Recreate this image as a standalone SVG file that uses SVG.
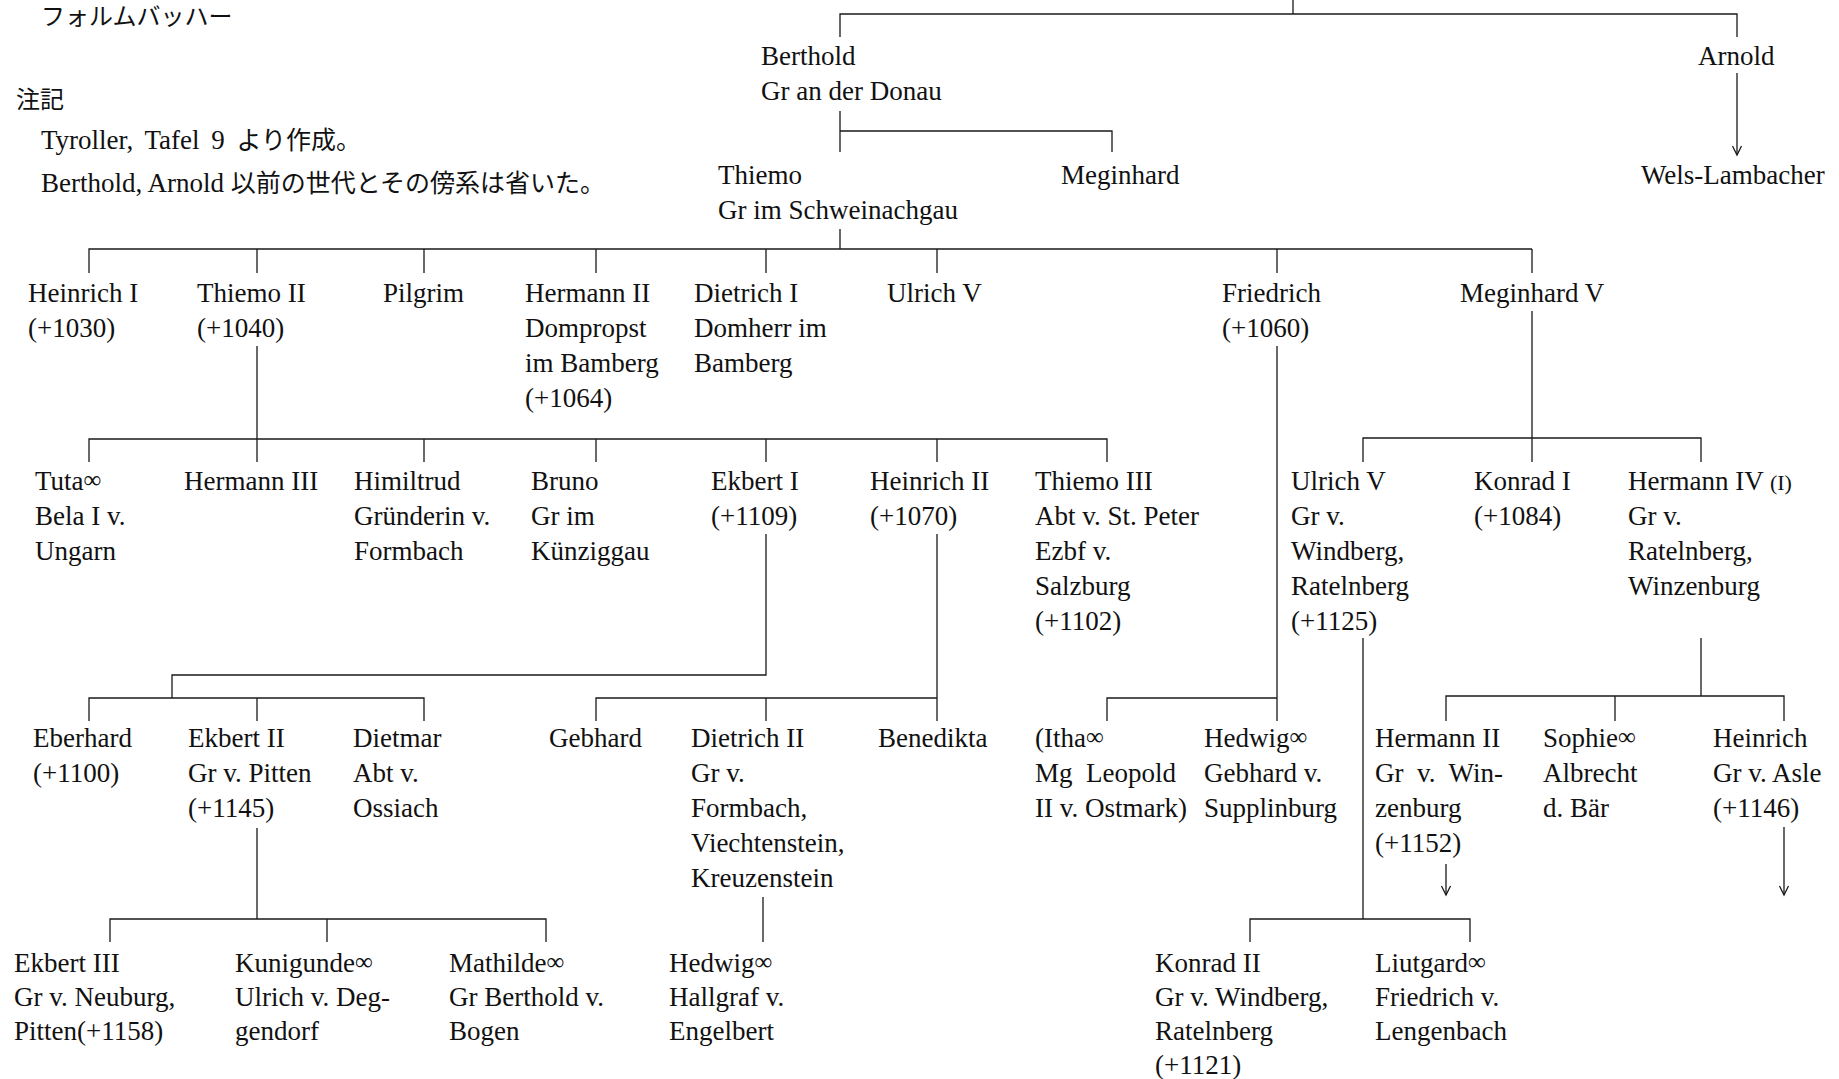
<svg xmlns="http://www.w3.org/2000/svg" width="1839" height="1079" viewBox="0 0 1839 1079">
  <style>
    text { font-family: "Liberation Serif", "Noto Sans CJK JP", serif; font-size: 27px; fill: #111; }
    .jp { font-family: "Noto Sans CJK JP", sans-serif; font-size: 24px; }
    .jpm { font-family: "Noto Sans CJK JP", sans-serif; font-size: 25px; }
    .inf { font-size: 25px; }
    .sm { font-size: 22px; }
    .ln { fill: none; stroke: #1a1a1a; stroke-width: 1.3; }
  </style>
  <defs>
    <marker id="arr" viewBox="-1 -6 12 12" refX="9" refY="0" markerWidth="12" markerHeight="12" markerUnits="userSpaceOnUse" orient="auto">
      <path d="M0,-4.5 L9,0 L0,4.5" fill="none" stroke="#1a1a1a" stroke-width="1.3"/>
    </marker>
  </defs>
  <rect width="1839" height="1079" fill="#fff"/>

  <!-- heading and notes -->
  <g id="title">
    <text class="jp" x="41" y="25">フォルムバッハー</text>
  </g>
  <g id="notes">
    <text class="jp" x="16" y="108">注記</text>
    <text x="41" y="149" word-spacing="5">Tyroller, Tafel 9 <tspan class="jpm" word-spacing="0">より作成。</tspan></text>
    <text x="41" y="192">Berthold, Arnold <tspan class="jpm">以前の世代とその傍系は省いた。</tspan></text>
  </g>

  <!-- connectors -->
  <g id="connectors" class="ln">
    <path class="ln" d="M1293 0 V14"/>
    <path class="ln" d="M840 37 V14 H1737 V37"/>
    <path class="ln" d="M840 111 V152 M840 131 H1112 V152"/>
    <path class="ln" d="M1737 73 V155" marker-end="url(#arr)"/>
    <path class="ln" d="M840 229 V249"/>
    <path class="ln" d="M89 273 V249 H1532 M257 249 V273 M424 249 V273 M596 249 V273 M766 249 V273 M937 249 V273 M1277 249 V273 M1532 249 V273"/>
    <path class="ln" d="M257 346 V462 M89 462 V439 H1107 V462 M424 439 V462 M596 439 V462 M766 439 V462 M937 439 V462"/>
    <path class="ln" d="M1277 346 V721 M1107 721 V698 H1277"/>
    <path class="ln" d="M1532 311 V462 M1363 462 V438 H1701 V462"/>
    <path class="ln" d="M766 534 V675 H172 V698 M89 721 V698 H424 V721 M257 698 V721"/>
    <path class="ln" d="M937 534 V721 M596 721 V698 H937 M766 698 V721"/>
    <path class="ln" d="M1363 638 V919 M1250 942 V919 H1470 V942"/>
    <path class="ln" d="M1701 638 V696 M1446 721 V696 H1784 V721 M1615 696 V721"/>
    <path class="ln" d="M257 828 V919 M110 942 V919 H546 V942 M327 919 V942"/>
    <path class="ln" d="M763 897 V942"/>
    <path class="ln" d="M1446 864 V895" marker-end="url(#arr)"/>
    <path class="ln" d="M1784 827 V895" marker-end="url(#arr)"/>
  </g>

  <!-- generation 1 -->
  <g id="n-berthold"><text><tspan x="761" y="65">Berthold</tspan><tspan x="761" y="100">Gr an der Donau</tspan></text></g>
  <g id="n-arnold"><text x="1698" y="65">Arnold</text></g>

  <!-- generation 2 -->
  <g id="n-thiemo"><text><tspan x="718" y="184">Thiemo</tspan><tspan x="718" y="219">Gr im Schweinachgau</tspan></text></g>
  <g id="n-meginhard"><text x="1061" y="184">Meginhard</text></g>
  <g id="n-wels-lambacher"><text x="1641" y="184">Wels-Lambacher</text></g>

  <!-- generation 3 -->
  <g id="n-heinrich-1"><text><tspan x="28" y="302">Heinrich I</tspan><tspan x="28" y="337">(+1030)</tspan></text></g>
  <g id="n-thiemo-2"><text><tspan x="197" y="302">Thiemo II</tspan><tspan x="197" y="337">(+1040)</tspan></text></g>
  <g id="n-pilgrim"><text x="383" y="302">Pilgrim</text></g>
  <g id="n-hermann-2"><text><tspan x="525" y="302">Hermann II</tspan><tspan x="525" y="337">Dompropst</tspan><tspan x="525" y="372">im Bamberg</tspan><tspan x="525" y="407">(+1064)</tspan></text></g>
  <g id="n-dietrich-1"><text><tspan x="694" y="302">Dietrich I</tspan><tspan x="694" y="337">Domherr im</tspan><tspan x="694" y="372">Bamberg</tspan></text></g>
  <g id="n-ulrich-5a"><text x="887" y="302">Ulrich V</text></g>
  <g id="n-friedrich"><text><tspan x="1222" y="302">Friedrich</tspan><tspan x="1222" y="337">(+1060)</tspan></text></g>
  <g id="n-meginhard-5"><text x="1460" y="302">Meginhard V</text></g>

  <!-- generation 4 -->
  <g id="n-tuta"><text><tspan x="35" y="490">Tuta<tspan class="inf" baseline-shift="2">∞</tspan></tspan><tspan x="35" y="525">Bela I v.</tspan><tspan x="35" y="560">Ungarn</tspan></text></g>
  <g id="n-hermann-3"><text x="184" y="490">Hermann III</text></g>
  <g id="n-himiltrud"><text><tspan x="354" y="490">Himiltrud</tspan><tspan x="354" y="525">Gründerin v.</tspan><tspan x="354" y="560">Formbach</tspan></text></g>
  <g id="n-bruno"><text><tspan x="531" y="490">Bruno</tspan><tspan x="531" y="525">Gr im</tspan><tspan x="531" y="560">Künziggau</tspan></text></g>
  <g id="n-ekbert-1"><text><tspan x="711" y="490">Ekbert I</tspan><tspan x="711" y="525">(+1109)</tspan></text></g>
  <g id="n-heinrich-2"><text><tspan x="870" y="490">Heinrich II</tspan><tspan x="870" y="525">(+1070)</tspan></text></g>
  <g id="n-thiemo-3"><text><tspan x="1035" y="490">Thiemo III</tspan><tspan x="1035" y="525">Abt v. St. Peter</tspan><tspan x="1035" y="560">Ezbf v.</tspan><tspan x="1035" y="595">Salzburg</tspan><tspan x="1035" y="630">(+1102)</tspan></text></g>
  <g id="n-ulrich-5b"><text><tspan x="1291" y="490">Ulrich V</tspan><tspan x="1291" y="525">Gr v.</tspan><tspan x="1291" y="560">Windberg,</tspan><tspan x="1291" y="595">Ratelnberg</tspan><tspan x="1291" y="630">(+1125)</tspan></text></g>
  <g id="n-konrad-1"><text><tspan x="1474" y="490">Konrad I</tspan><tspan x="1474" y="525">(+1084)</tspan></text></g>
  <g id="n-hermann-4"><text><tspan x="1628" y="490">Hermann IV <tspan class="sm">(I)</tspan></tspan><tspan x="1628" y="525">Gr v.</tspan><tspan x="1628" y="560">Ratelnberg,</tspan><tspan x="1628" y="595">Winzenburg</tspan></text></g>

  <!-- generation 5 -->
  <g id="n-eberhard"><text><tspan x="33" y="747">Eberhard</tspan><tspan x="33" y="782">(+1100)</tspan></text></g>
  <g id="n-ekbert-2"><text><tspan x="188" y="747">Ekbert II</tspan><tspan x="188" y="782">Gr v. Pitten</tspan><tspan x="188" y="817">(+1145)</tspan></text></g>
  <g id="n-dietmar"><text><tspan x="353" y="747">Dietmar</tspan><tspan x="353" y="782">Abt v.</tspan><tspan x="353" y="817">Ossiach</tspan></text></g>
  <g id="n-gebhard"><text x="549" y="747">Gebhard</text></g>
  <g id="n-dietrich-2"><text><tspan x="691" y="747">Dietrich II</tspan><tspan x="691" y="782">Gr v.</tspan><tspan x="691" y="817">Formbach,</tspan><tspan x="691" y="852">Viechtenstein,</tspan><tspan x="691" y="887">Kreuzenstein</tspan></text></g>
  <g id="n-benedikta"><text x="878" y="747">Benedikta</text></g>
  <g id="n-itha"><text xml:space="preserve"><tspan x="1035" y="747">(Itha<tspan class="inf" baseline-shift="2">∞</tspan></tspan><tspan x="1035" y="782">Mg  Leopold</tspan><tspan x="1035" y="817">II v. Ostmark)</tspan></text></g>
  <g id="n-hedwig-1"><text><tspan x="1204" y="747">Hedwig<tspan class="inf" baseline-shift="2">∞</tspan></tspan><tspan x="1204" y="782">Gebhard v.</tspan><tspan x="1204" y="817">Supplinburg</tspan></text></g>
  <g id="n-hermann-2b"><text xml:space="preserve"><tspan x="1375" y="747">Hermann II</tspan><tspan x="1375" y="782">Gr  v.  Win-</tspan><tspan x="1375" y="817">zenburg</tspan><tspan x="1375" y="852">(+1152)</tspan></text></g>
  <g id="n-sophie"><text><tspan x="1543" y="747">Sophie<tspan class="inf" baseline-shift="2">∞</tspan></tspan><tspan x="1543" y="782">Albrecht</tspan><tspan x="1543" y="817">d. Bär</tspan></text></g>
  <g id="n-heinrich"><text><tspan x="1713" y="747">Heinrich</tspan><tspan x="1713" y="782">Gr v. Asle</tspan><tspan x="1713" y="817">(+1146)</tspan></text></g>

  <!-- generation 6 -->
  <g id="n-ekbert-3"><text><tspan x="14" y="972">Ekbert III</tspan><tspan x="14" y="1006">Gr v. Neuburg,</tspan><tspan x="14" y="1040">Pitten(+1158)</tspan></text></g>
  <g id="n-kunigunde"><text><tspan x="235" y="972">Kunigunde<tspan class="inf" baseline-shift="2">∞</tspan></tspan><tspan x="235" y="1006">Ulrich v. Deg-</tspan><tspan x="235" y="1040">gendorf</tspan></text></g>
  <g id="n-mathilde"><text><tspan x="449" y="972">Mathilde<tspan class="inf" baseline-shift="2">∞</tspan></tspan><tspan x="449" y="1006">Gr Berthold v.</tspan><tspan x="449" y="1040">Bogen</tspan></text></g>
  <g id="n-hedwig-2"><text><tspan x="669" y="972">Hedwig<tspan class="inf" baseline-shift="2">∞</tspan></tspan><tspan x="669" y="1006">Hallgraf v.</tspan><tspan x="669" y="1040">Engelbert</tspan></text></g>
  <g id="n-konrad-2"><text><tspan x="1155" y="972">Konrad II</tspan><tspan x="1155" y="1006">Gr v. Windberg,</tspan><tspan x="1155" y="1040">Ratelnberg</tspan><tspan x="1155" y="1074">(+1121)</tspan></text></g>
  <g id="n-liutgard"><text><tspan x="1375" y="972">Liutgard<tspan class="inf" baseline-shift="2">∞</tspan></tspan><tspan x="1375" y="1006">Friedrich v.</tspan><tspan x="1375" y="1040">Lengenbach</tspan></text></g>
</svg>
